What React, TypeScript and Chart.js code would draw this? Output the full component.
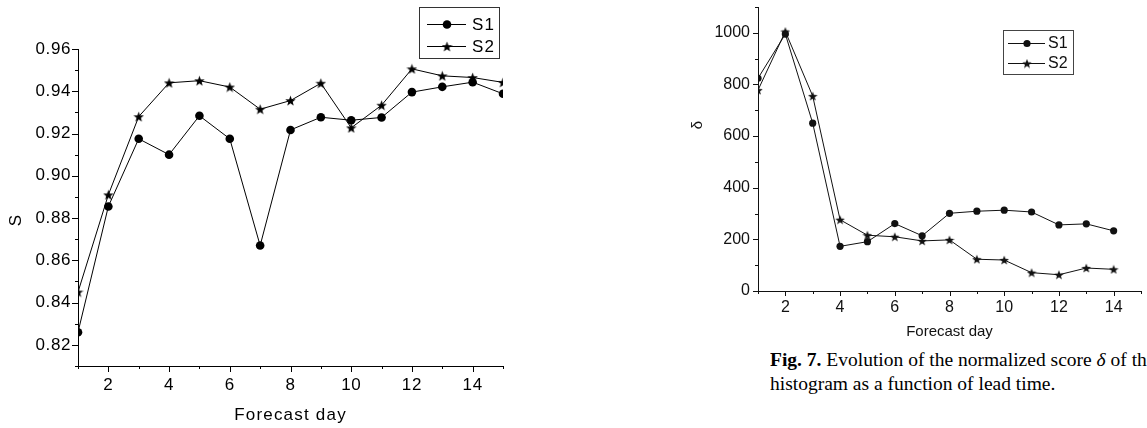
import React, { useEffect, useRef } from 'react';
import { Chart, registerables } from 'chart.js';

Chart.register(...registerables);

// ---------- data ----------
const leftDays = [1, 2, 3, 4, 5, 6, 7, 8, 9, 10, 11, 12, 13, 14, 15];
const leftS1 = [0.826, 0.8855, 0.9175, 0.91, 0.9284, 0.9175, 0.867, 0.9217, 0.9277, 0.9263, 0.9276, 0.9396, 0.9421, 0.9443, 0.9388];
const leftS2 = [0.845, 0.891, 0.928, 0.944, 0.945, 0.942, 0.9315, 0.9356, 0.9438, 0.9227, 0.9334, 0.9506, 0.9473, 0.9465, 0.9442];

const rightDays = [1, 2, 3, 4, 5, 6, 7, 8, 9, 10, 11, 12, 13, 14];
const rightS1 = [824, 995, 650, 173, 191, 261, 214, 301, 309, 313, 306, 256, 260, 233];
const rightS2 = [778, 1005, 755, 276, 216, 210, 194, 198, 123, 120, 71, 63, 89, 84];

const seriesNames = ['S1', 'S2'];
const xTitle = 'Forecast day';
const leftYTitle = 'S';
const rightYTitle = 'δ';
const captionLine1Bold = 'Fig. 7.';
const captionLine1 = ' Evolution of the normalized score ';
const captionDelta = 'δ';
const captionLine1End = ' of the';
const captionLine2 = 'histogram as a function of lead time.';

const SANS = '"Liberation Sans", Arial, sans-serif';

function makeStar(size: number, color: string) {
  const c = document.createElement('canvas');
  c.width = size;
  c.height = size;
  const ctx = c.getContext('2d')!;
  const cx = size / 2;
  const cy = size / 2 + size * 0.05;
  const R = size / 2;
  const r = R * 0.42;
  ctx.beginPath();
  for (let i = 0; i < 10; i++) {
    const ang = -Math.PI / 2 + (i * Math.PI) / 5;
    const rad = i % 2 === 0 ? R : r;
    const x = cx + rad * Math.cos(ang);
    const y = cy + rad * Math.sin(ang);
    if (i === 0) ctx.moveTo(x, y);
    else ctx.lineTo(x, y);
  }
  ctx.closePath();
  ctx.fillStyle = color;
  ctx.fill();
  return c;
}

const decorPlugin = {
  id: 'decor',
  afterDraw(chart: any, _args: any, o: any) {
    const ctx = chart.ctx as CanvasRenderingContext2D;
    const area = chart.chartArea;
    const xs = chart.scales.x;
    const ys = chart.scales.y;
    ctx.save();
    ctx.strokeStyle = o.color;
    ctx.fillStyle = o.color;
    ctx.lineWidth = 1;
    // x tick marks
    xs.ticks.forEach((t: any) => {
      const px = Math.round(xs.getPixelForValue(t.value)) + 0.5;
      const major = o.xMajor(t.value);
      const len = major ? o.majorLen : o.minorLen;
      ctx.beginPath();
      ctx.moveTo(px, area.bottom);
      ctx.lineTo(px, area.bottom + len);
      ctx.stroke();
    });
    ys.ticks.forEach((t: any) => {
      const py = Math.round(ys.getPixelForValue(t.value)) + 0.5;
      const major = o.yMajor(t.value);
      const len = major ? o.majorLen : o.minorLen;
      ctx.beginPath();
      ctx.moveTo(area.left, py);
      ctx.lineTo(area.left - len, py);
      ctx.stroke();
    });
    // axis titles
    (ctx as any).letterSpacing = o.letterSpacing;
    ctx.font = o.titleFont;
    ctx.textAlign = 'center';
    ctx.textBaseline = 'middle';
    ctx.fillText(o.xTitle, (area.left + area.right) / 2, o.xTitleY);
    ctx.save();
    ctx.translate(o.yTitleX, o.yTitleY);
    ctx.rotate(-Math.PI / 2);
    ctx.fillText(o.yTitle, 0, 0);
    ctx.restore();
    // legend
    const L = o.legend;
    ctx.lineWidth = 1;
    ctx.strokeStyle = o.legendBorder;
    ctx.strokeRect(L.x + 0.5, L.y + 0.5, L.w, L.h);
    ctx.strokeStyle = o.color;
    chart.data.datasets.forEach((ds: any, i: number) => {
      const ry = L.rows[i];
      ctx.beginPath();
      ctx.moveTo(L.lineX1, ry + 0.5);
      ctx.lineTo(L.lineX2, ry + 0.5);
      ctx.stroke();
      if (ds.pointStyle === 'circle') {
        ctx.beginPath();
        ctx.arc(L.markerX, ry + 0.5, ds.pointRadius, 0, Math.PI * 2);
        ctx.fill();
      } else {
        const img = ds.pointStyle as HTMLCanvasElement;
        ctx.drawImage(img, L.markerX - img.width / 2, ry + 0.5 - img.height / 2);
      }
      ctx.font = L.font;
      ctx.textAlign = 'left';
      ctx.textBaseline = 'middle';
      ctx.fillText(ds.label, L.textX, ry + 1);
    });
    ctx.restore();
  },
};

const letterSpacingPlugin = {
  id: 'lspace',
  beforeDraw(chart: any, _a: any, o: any) {
    (chart.ctx as any).letterSpacing = o.value || '0px';
  },
};

function LeftChart() {
  const ref = useRef<HTMLCanvasElement>(null);
  useEffect(() => {
    const star = makeStar(11, '#000');
    const color = '#000';
    const chart = new Chart(ref.current!, {
      type: 'line',
      data: {
        datasets: [
          {
            label: seriesNames[0],
            data: leftDays.map((d, i) => ({ x: d, y: leftS1[i] })),
            borderColor: color,
            backgroundColor: color,
            borderWidth: 1,
            pointStyle: 'circle',
            pointRadius: 4.3,
            pointBorderWidth: 0,
            tension: 0,
          },
          {
            label: seriesNames[1],
            data: leftDays.map((d, i) => ({ x: d, y: leftS2[i] })),
            borderColor: color,
            backgroundColor: color,
            borderWidth: 1,
            pointStyle: star as any,
            pointRadius: 6,
            tension: 0,
          },
        ],
      },
      options: {
        animation: false,
        responsive: false,
        devicePixelRatio: 1,
        layout: { padding: { top: 49, left: 0, right: 17, bottom: 0 } },
        plugins: {
          legend: { display: false },
          tooltip: { enabled: false },
          lspace: { value: '0.6px' },
          decor: {
            color,
            legendBorder: '#333',
            majorLen: 6,
            minorLen: 3,
            xMajor: (v: number) => Math.round(v) % 2 === 0,
            yMajor: (v: number) => Math.round(v * 100) % 2 === 0,
            titleFont: `17px ${SANS}`,
            letterSpacing: '1.2px',
            xTitle,
            xTitleY: 415,
            yTitle: leftYTitle,
            yTitleX: 16,
            yTitleY: 220,
            legend: {
              x: 419, y: 7, w: 80, h: 51,
              rows: [24, 46],
              lineX1: 427, lineX2: 466, markerX: 447, textX: 472,
              font: `17px ${SANS}`,
            },
          },
        } as any,
        scales: {
          x: {
            type: 'linear',
            min: 1,
            max: 15,
            grid: { display: false, drawTicks: false },
            border: { display: true, color, width: 1 },
            ticks: {
              stepSize: 1,
              autoSkip: false,
              maxRotation: 0,
              padding: 9,
              color,
              font: { family: SANS, size: 17 },
              callback: (v: any) => (Math.round(v) % 2 === 0 && v < 15 ? String(Math.round(v)) : ''),
            },
            afterFit: (s: any) => {
              s.height = 62;
              s.paddingLeft = 0;
              s.paddingRight = 0;
            },
          },
          y: {
            type: 'linear',
            min: 0.81,
            max: 0.96,
            grid: { display: false, drawTicks: false },
            border: { display: true, color, width: 1 },
            ticks: {
              stepSize: 0.01,
              autoSkip: false,
              padding: 7,
              color,
              font: { family: SANS, size: 17 },
              callback: (v: any) => {
                const k = Math.round(v * 100);
                return k % 2 === 0 ? (k / 100).toFixed(2) : '';
              },
            },
            afterFit: (s: any) => {
              s.width = 78;
              s.paddingTop = 0;
              s.paddingBottom = 0;
            },
          },
        },
      } as any,
      plugins: [letterSpacingPlugin, decorPlugin],
    });
    return () => chart.destroy();
  }, []);
  return <canvas ref={ref} width={520} height={428} style={{ position: 'absolute', left: 0, top: 0, width: 520, height: 428 }} />;
}

function RightChart() {
  const ref = useRef<HTMLCanvasElement>(null);
  useEffect(() => {
    const star = makeStar(10, '#111');
    const color = '#111';
    const chart = new Chart(ref.current!, {
      type: 'line',
      data: {
        datasets: [
          {
            label: seriesNames[0],
            data: rightDays.map((d, i) => ({ x: d, y: rightS1[i] })),
            borderColor: color,
            backgroundColor: color,
            borderWidth: 1,
            pointStyle: 'circle',
            pointRadius: 3.6,
            pointBorderWidth: 0,
            tension: 0,
          },
          {
            label: seriesNames[1],
            data: rightDays.map((d, i) => ({ x: d, y: rightS2[i] })),
            borderColor: color,
            backgroundColor: color,
            borderWidth: 1,
            pointStyle: star as any,
            pointRadius: 5,
            tension: 0,
          },
        ],
      },
      options: {
        animation: false,
        responsive: false,
        devicePixelRatio: 1,
        layout: { padding: { top: 7, left: 0, right: 5, bottom: 0 } },
        plugins: {
          legend: { display: false },
          tooltip: { enabled: false },
          lspace: { value: '0px' },
          decor: {
            color,
            legendBorder: '#444',
            majorLen: 5,
            minorLen: 3,
            xMajor: (v: number) => Math.round(v) % 2 === 0,
            yMajor: (v: number) => Math.round(v) % 200 === 0,
            titleFont: `15px ${SANS}`,
            letterSpacing: '0px',
            xTitle,
            xTitleY: 332,
            yTitle: rightYTitle,
            yTitleX: 58,
            yTitleY: 125,
            legend: {
              x: 363, y: 30, w: 70, h: 44,
              rows: [43, 63],
              lineX1: 368, lineX2: 405, markerX: 387, textX: 408,
              font: `16px ${SANS}`,
            },
          },
        } as any,
        scales: {
          x: {
            type: 'linear',
            min: 1,
            max: 15,
            grid: { display: false, drawTicks: false },
            border: { display: true, color, width: 1 },
            ticks: {
              stepSize: 1,
              autoSkip: false,
              maxRotation: 0,
              padding: 7,
              color,
              font: { family: SANS, size: 16 },
              callback: (v: any) => (Math.round(v) % 2 === 0 && v < 15 ? String(Math.round(v)) : ''),
            },
            afterFit: (s: any) => {
              s.height = 54;
              s.paddingLeft = 0;
              s.paddingRight = 0;
            },
          },
          y: {
            type: 'linear',
            min: 0,
            max: 1100,
            grid: { display: false, drawTicks: false },
            border: { display: true, color, width: 1 },
            ticks: {
              stepSize: 100,
              autoSkip: false,
              padding: 8,
              color,
              font: { family: SANS, size: 16 },
              callback: (v: any) => (Math.round(v) % 200 === 0 && v <= 1000 ? String(Math.round(v)) : ''),
            },
            afterFit: (s: any) => {
              s.width = 118;
              s.paddingTop = 0;
              s.paddingBottom = 0;
            },
          },
        },
      } as any,
      plugins: [letterSpacingPlugin, decorPlugin],
    });
    return () => chart.destroy();
  }, []);
  return <canvas ref={ref} width={507} height={345} style={{ position: 'absolute', left: 640, top: 0, width: 507, height: 345 }} />;
}

export default function App() {
  useEffect(() => {
    document.documentElement.style.overflow = 'hidden';
    document.body.style.overflow = 'hidden';
  }, []);
  return (
    <div style={{ position: 'absolute', left: 0, top: 0, width: 1147, height: 428, overflow: 'hidden', background: '#fff' }}>
      <LeftChart />
      <RightChart />
      <div
        style={{
          position: 'absolute',
          left: 770,
          top: 348,
          width: 377,
          overflow: 'hidden',
          whiteSpace: 'nowrap',
          fontFamily: '"Liberation Serif", "DejaVu Serif", serif',
          fontSize: 19.5,
          lineHeight: '24px',
          color: '#000',
        }}
      >
        <div>
          <b>{captionLine1Bold}</b>
          {captionLine1}
          <i>{captionDelta}</i>
          {captionLine1End}
        </div>
        <div>{captionLine2}</div>
      </div>
    </div>
  );
}
